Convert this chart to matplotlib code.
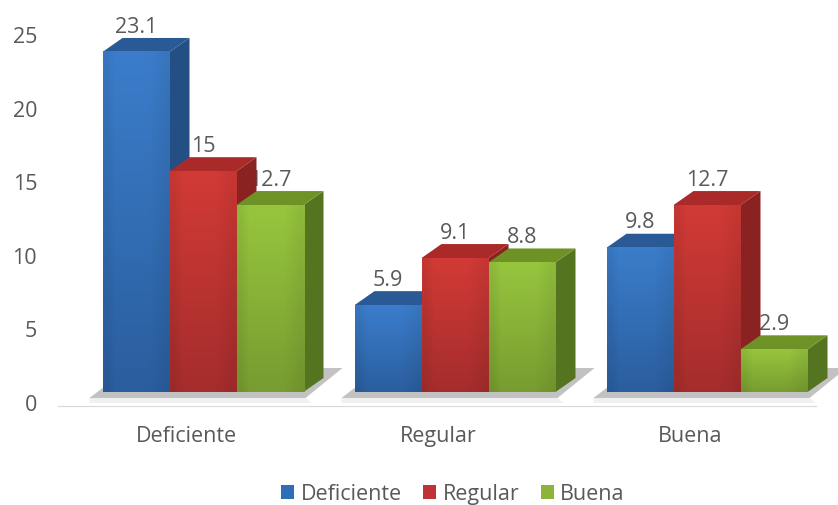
import numpy as np
import matplotlib
matplotlib.use("Agg")
import matplotlib.pyplot as plt
from matplotlib.patches import Polygon, Patch
from matplotlib.transforms import Affine2D

categories = ["Deficiente", "Regular", "Buena"]
series_names = ["Deficiente", "Regular", "Buena"]
deficiente = [23.1, 5.9, 9.8]
regular = [15, 9.1, 12.7]
buena = [12.7, 8.8, 2.9]
y_ticks = [0, 5, 10, 15, 20, 25]

plt.rcParams["font.family"] = ["Open Sans", "DejaVu Sans"]
TEXT = "#595959"
FS = 15.5

# front top, front bottom, side, roof, legend
colors = {
    "Deficiente": ("#3B7DCB", "#2A5E9E", "#234F85", "#2A5A96", "#2F6DB5"),
    "Regular": ("#D23A36", "#A42D2C", "#8A2222", "#A92A28", "#BE3338"),
    "Buena": ("#97C63E", "#779C30", "#55741F", "#6F9227", "#8DB33A"),
}

fig = plt.figure(figsize=(8.38, 5.06), dpi=100)
ax = fig.add_axes([58 / 838, 1 - 407 / 506, (816 - 58) / 838, (407 - 35) / 506])

px_x = 252  # pixels per category
px_y = 14.72  # pixels per unit
bar_w = 67 / px_x
dx = 20 / px_x
dy = 14 / px_y

# the 3D bars sit up and to the right of the axis positions
shift = ax.transData + Affine2D().translate(17, 10)


def gradient(top, bottom):
    t = np.array(matplotlib.colors.to_rgb(top))
    b = np.array(matplotlib.colors.to_rgb(bottom))
    rows = np.linspace(0, 1, 64)[:, None, None]
    img = t * (1 - rows) + b * rows
    edge = np.array([0.94, 1.0, 1.0, 1.0, 1.0, 1.0, 0.97, 0.94])[None, :, None]
    return np.clip(img * edge, 0, 1)


# floor shadows
for i in range(len(categories)):
    x0 = i - 1.5 * bar_w
    x1 = i + 1.5 * bar_w
    ax.add_patch(Polygon(
        [(x0 - 13 / px_x, -6 / px_y), (x1 + 2 / px_x, -6 / px_y),
         (x1 + 39 / px_x, 24 / px_y), (x1 + 20 / px_x, 24 / px_y), (x0, 4 / px_y)],
        closed=True, fc="#C2C2C2", ec="none", transform=shift, zorder=1, clip_on=False))
    ax.add_patch(Polygon(
        [(x0 - 13 / px_x, -6 / px_y), (x1 + 2 / px_x, -6 / px_y),
         (x1 + 8 / px_x, -11 / px_y), (x0 - 13 / px_x, -11 / px_y)],
        closed=True, fc="#F0F0F0", ec="none", transform=shift, zorder=1, clip_on=False))

all_series = [deficiente, regular, buena]
for j, (name, values) in enumerate(zip(series_names, all_series)):
    top_c, bot_c, side_c, roof_c, _ = colors[name]
    for i, v in enumerate(values):
        x0 = i + (j - 1.5) * bar_w
        x1 = x0 + bar_w
        z = 3 + j + i * 0.1
        # labels go under the bars, the red side hides part of some of them
        ax.text((x0 + x1) / 2, v + 1.75, str(v), transform=shift, ha="center", va="center",
                fontsize=FS, color=TEXT, zorder=2, clip_on=False)
        ax.add_patch(Polygon([(x1, 0), (x1 + dx, dy), (x1 + dx, v + dy), (x1, v)],
                             closed=True, fc=side_c, ec="none", transform=shift, zorder=z, clip_on=False))
        ax.add_patch(Polygon([(x0, v), (x1, v), (x1 + dx, v + dy), (x0 + dx, v + dy)],
                             closed=True, fc=roof_c, ec="none", transform=shift, zorder=z, clip_on=False))
        ax.imshow(gradient(top_c, bot_c), extent=(x0, x1, 0, v), aspect="auto", transform=shift,
                  zorder=z + 0.01, clip_on=False, interpolation="bilinear")

ax.set_xlim((58 - 186) / px_x, (816 - 186) / px_x)
ax.set_ylim(-4 / px_y, 25)
ax.set_xticks(range(len(categories)))
ax.set_xticklabels(categories)
ax.set_yticks(y_ticks)
ax.tick_params(axis="both", length=0, labelsize=FS, labelcolor=TEXT)
ax.tick_params(axis="x", pad=13.5)
ax.tick_params(axis="y", pad=15)
for s in ["top", "left", "right"]:
    ax.spines[s].set_visible(False)
ax.spines["bottom"].set_color("#D9D9D9")
ax.patch.set_visible(False)

handles = [Patch(fc=colors[n][4], ec="none", label=n) for n in series_names]
fig.legend(handles=handles, loc="center", bbox_to_anchor=(453 / 838, 1 - 495 / 506), ncol=3,
           frameon=False, fontsize=FS, labelcolor=TEXT, handlelength=0.6, handleheight=0.6,
           handletextpad=0.3, columnspacing=1.0)

fig.savefig("out.png", dpi=100, facecolor="white")
